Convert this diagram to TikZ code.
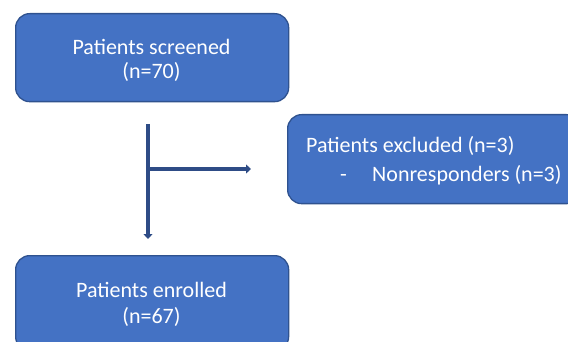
\documentclass[tikz,border=0pt]{standalone}
\usepackage{fontspec}
\setmainfont{Carlito}
\usetikzlibrary{arrows.meta}
\definecolor{boxfill}{HTML}{4472C4}
\definecolor{boxedge}{HTML}{2F528F}
\definecolor{arrowcol}{HTML}{2E4C86}
\begin{document}
\begin{tikzpicture}[x=1pt,y=-1pt,
  box/.style={draw=boxedge, line width=1.3pt, fill=boxfill, rounded corners=14pt, inner sep=0pt, anchor=north west},
  lbl/.style={text=white, font=\fontsize{22}{26}\selectfont, inner sep=0pt, anchor=base},
  lbll/.style={lbl, anchor=base west},
  flow/.style={draw=arrowcol, line width=3.4pt, -{Triangle[width=9pt,length=5pt]}}]
\useasboundingbox (0,0) rectangle (568,342);
% boxes
\node[box, minimum width=273pt, minimum height=88pt] (screened) at (15,13) {};
\node[box, minimum width=293pt, minimum height=89pt] (excluded) at (287,114) {};
\node[box, minimum width=273pt, minimum height=95pt] (enrolled) at (15,255) {};
% texts
\node[lbl] (s1) at (151.5,55) {Patients screened};
\node[lbl] (s2) at (151.5,79) {(n=70)};
\node[lbll] (x1) at (306,153) {Patients excluded (n=3)};
\node[lbll] (x2) at (340,182) {-};
\node[lbll] (x3) at (372,182) {Nonresponders (n=3)};
\node[lbl] (e1) at (151.5,297) {Patients enrolled};
\node[lbl] (e2) at (151.5,323) {(n=67)};
% connectors
\coordinate (vtop) at (148,124);
\coordinate (vbot) at (148,239);
\coordinate (hj) at (148,169);
\coordinate (hend) at (251,169);
\draw[flow] (vtop) -- (vbot);
\draw[flow] (hj) -- (hend);
\end{tikzpicture}
\end{document}
